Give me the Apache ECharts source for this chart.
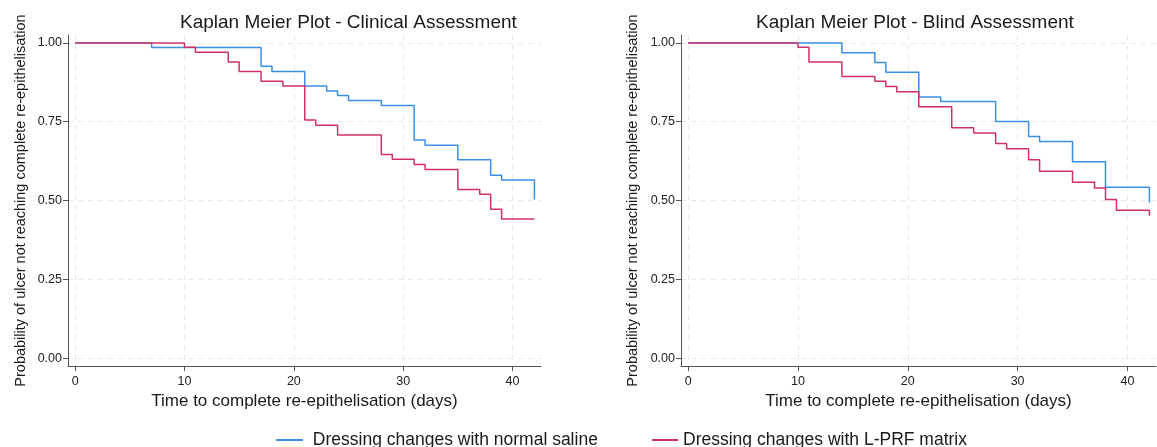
<!DOCTYPE html>
<html>
<head>
<meta charset="utf-8">
<script src="https://cdn.jsdelivr.net/npm/echarts@6/dist/echarts.min.js"></script>
<style>
html,body{margin:0;padding:0;background:#fff;}
#c{width:1157px;height:447px;}
</style>
</head>
<body>
<div id="c"></div>
<script>
// ---- data ----
const xTicks = [0, 10, 20, 30, 40];
const yTicks = [0, 0.25, 0.5, 0.75, 1];
const seriesNames = ['Dressing changes with normal saline', 'Dressing changes with L-PRF matrix'];
const titles = ['Kaplan Meier Plot - Clinical Assessment', 'Kaplan Meier Plot - Blind Assessment'];
const xTitle = 'Time to complete re-epithelisation (days)';
const yTitle = 'Probability of ulcer not reaching complete re-epithelisation';

const clinSalineDays = [0, 7, 17, 18, 21, 23, 24, 25, 28, 31, 32, 35, 38, 39, 42];
const clinSalineSurv = [1.000, 0.985, 0.926, 0.909, 0.863, 0.847, 0.833, 0.817, 0.801, 0.692, 0.675, 0.629, 0.580, 0.565, 0.503];
const clinPrfDays = [0, 10, 11, 14, 15, 17, 19, 21, 22, 24, 28, 29, 31, 32, 35, 37, 38, 39, 42];
const clinPrfSurv = [1.000, 0.986, 0.970, 0.939, 0.909, 0.878, 0.863, 0.755, 0.739, 0.708, 0.646, 0.631, 0.614, 0.598, 0.535, 0.520, 0.472, 0.441, 0.441];

const blindSalineDays = [0, 14, 17, 18, 21, 23, 28, 31, 32, 35, 38, 42];
const blindSalineSurv = [1.000, 0.969, 0.938, 0.907, 0.828, 0.814, 0.751, 0.703, 0.687, 0.623, 0.542, 0.494];
const blindPrfDays = [0, 10, 11, 14, 17, 18, 19, 21, 24, 26, 28, 29, 31, 32, 35, 37, 38, 39, 42];
const blindPrfSurv = [1.000, 0.986, 0.939, 0.893, 0.878, 0.862, 0.845, 0.797, 0.731, 0.714, 0.681, 0.664, 0.629, 0.593, 0.558, 0.540, 0.503, 0.469, 0.452];

// ---- chart ----
const FONT = "'Liberation Sans', Arial, Helvetica, sans-serif";
const BLUE = '#3a8ee8';
const RED = '#cf306a';
const zip = (xs, ys) => xs.map((x, i) => [x, ys[i]]);

function xAxis(gi) {
  return {
    type: 'value', gridIndex: gi, min: -0.65, max: 42.6,
    name: xTitle, nameLocation: 'middle', nameGap: 22,
    nameTextStyle: { fontFamily: FONT, fontSize: 17, color: '#1a1a1a' },
    axisLine: { show: true, onZero: false, lineStyle: { color: '#555', width: 1 } },
    axisTick: { show: true, length: 5, customValues: xTicks, lineStyle: { color: '#555' } },
    axisLabel: { customValues: xTicks, margin: 9, fontFamily: FONT, fontSize: 12.5, color: '#222' },
    splitLine: { show: true, lineStyle: { color: '#e8e8e8', type: [5, 5], width: 1 } }
  };
}
function yAxis(gi, gap) {
  return {
    type: 'value', gridIndex: gi, min: -0.025, max: 1.025,
    name: yTitle, nameLocation: 'middle', nameGap: gap,
    nameTextStyle: { fontFamily: FONT, fontSize: 14.5, color: '#1a1a1a' },
    axisLine: { show: true, onZero: false, lineStyle: { color: '#555', width: 1 } },
    axisTick: { show: true, length: 5, customValues: yTicks, lineStyle: { color: '#555' } },
    axisLabel: { customValues: yTicks, margin: 6, fontFamily: FONT, fontSize: 12.5, color: '#222',
      formatter: v => v.toFixed(2) },
    splitLine: { show: true, lineStyle: { color: '#e8e8e8', type: [5, 5], width: 1 } }
  };
}
function km(name, gi, data, color) {
  return {
    type: 'line', name: name, xAxisIndex: gi, yAxisIndex: gi, step: 'end',
    data: data, symbol: 'none', showSymbol: false, animation: false,
    lineStyle: { color: color, width: 1.5 }, itemStyle: { color: color }
  };
}

const option = {
  backgroundColor: '#fff',
  animation: false,
  title: [
    { text: titles[0], left: 180, top: 13, padding: 0,
      textStyle: { fontFamily: FONT, fontSize: 19, fontWeight: 'normal', color: '#1a1a1a' } },
    { text: titles[1], left: 756, top: 13, padding: 0,
      textStyle: { fontFamily: FONT, fontSize: 19, fontWeight: 'normal', color: '#1a1a1a' } }
  ],
  legend: [
    { data: [seriesNames[0]], left: 276, top: 431, padding: 0, icon: 'rect', itemWidth: 27, itemHeight: 2,
      formatter: n => ' ' + n,
      textStyle: { fontFamily: FONT, fontSize: 17.5, color: '#1a1a1a' } },
    { data: [seriesNames[1]], left: 652, top: 431, padding: 0, icon: 'rect', itemWidth: 26, itemHeight: 2,
      textStyle: { fontFamily: FONT, fontSize: 17.5, color: '#1a1a1a' } }
  ],
  grid: [
    { left: 68, top: 35, width: 473, height: 331 },
    { left: 681, top: 35, width: 475, height: 331 }
  ],
  xAxis: [xAxis(0), xAxis(1)],
  yAxis: [yAxis(0, 40), yAxis(1, 41)],
  series: [
    km(seriesNames[0], 0, zip(clinSalineDays, clinSalineSurv), BLUE),
    km(seriesNames[1], 0, zip(clinPrfDays, clinPrfSurv), RED),
    km(seriesNames[0], 1, zip(blindSalineDays, blindSalineSurv), BLUE),
    km(seriesNames[1], 1, zip(blindPrfDays, blindPrfSurv), RED)
  ]
};
const chart = echarts.init(document.getElementById('c'), null, { renderer: 'canvas' });
chart.setOption(option);
</script>
</body>
</html>
